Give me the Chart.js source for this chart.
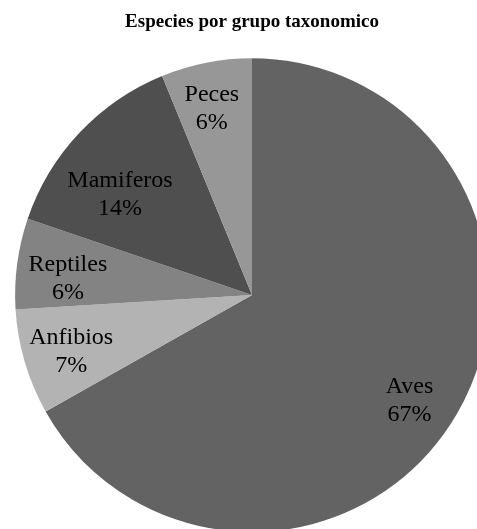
<!DOCTYPE html>
<html>
<head>
<meta charset="utf-8">
<script src="https://cdn.jsdelivr.net/npm/chart.js@4.4.0/dist/chart.umd.min.js"></script>
<style>
  html, body { margin: 0; padding: 0; background: #fff; overflow: hidden; }
  #wrap { width: 504px; height: 532px; }
</style>
</head>
<body>
<div id="wrap"><canvas id="grafico"></canvas></div>
<script>
// datos
const grupos = ["Aves", "Anfibios", "Reptiles", "Mamiferos", "Peces"];
const especies = [66.9, 7.2, 6.2, 13.6, 6.2];
const colori = ["#636363", "#b3b3b3", "#838383", "#4f4f4f", "#979797"];

// etichette dentro le fette (posizione tipo "best fit")
const etichette = {
  id: 'etichette',
  afterDatasetsDraw(chart, args, opts) {
    const c = chart.ctx;
    const meta = chart.getDatasetMeta(0);
    const tot = especies.reduce((a, b) => a + b, 0);
    c.save();
    c.font = '24px "Liberation Serif", "Times New Roman", serif';
    c.fillStyle = '#000';
    c.textAlign = 'center';
    c.textBaseline = 'middle';
    meta.data.forEach((arc, i) => {
      const p = arc.getProps(['x', 'y', 'startAngle', 'endAngle', 'outerRadius']);
      const a = (p.startAngle + p.endAngle) / 2 + opts.giro[i] * Math.PI / 180;
      const r = p.outerRadius * opts.raggio[i];
      const x = p.x + Math.cos(a) * r;
      const y = p.y + Math.sin(a) * r;
      c.fillText(grupos[i], x, y - 14);
      c.fillText(Math.round(especies[i] / tot * 100) + '%', x, y + 14);
    });
    c.restore();
  }
};

new Chart(document.getElementById('grafico'), {
  type: 'pie',
  data: {
    labels: grupos,
    datasets: [{
      data: especies,
      backgroundColor: colori,
      borderWidth: 0
    }]
  },
  options: {
    responsive: true,
    maintainAspectRatio: false,
    animation: false,
    layout: { padding: 0 },
    plugins: {
      legend: { display: false },
      tooltip: { enabled: false },
      title: {
        display: true,
        text: 'Especies por grupo taxonomico',
        color: '#000',
        font: { family: '"Liberation Serif", "Times New Roman", serif', size: 19, weight: 'bold' },
        padding: { top: 11, bottom: 24.4 }
      },
      etichette: {
        raggio: [0.80, 0.80, 0.78, 0.70, 0.805],
        giro: [3.5, -1, -2.6, -6, -1]
      }
    }
  },
  plugins: [etichette]
});
</script>
</body>
</html>
